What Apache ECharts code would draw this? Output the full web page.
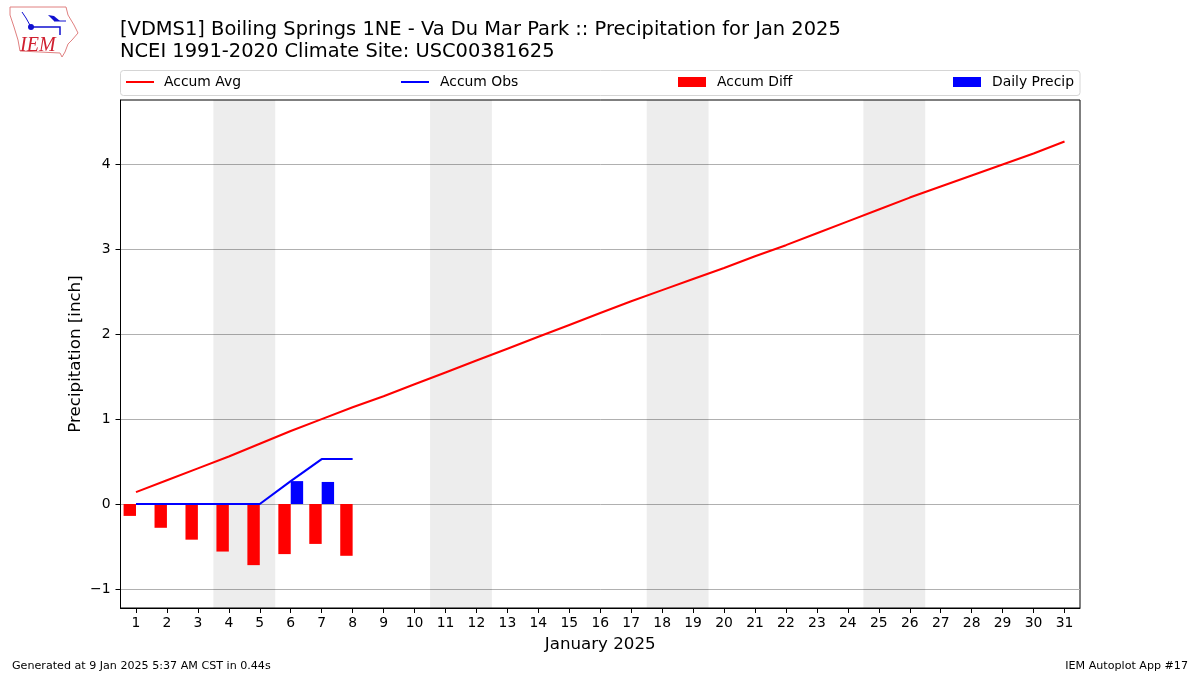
<!DOCTYPE html>
<html><head><meta charset="utf-8">
<style>html,body{margin:0;padding:0;background:#fff}#c{width:1200px;height:675px}</style>
<script src="https://cdn.jsdelivr.net/npm/echarts@6/dist/echarts.min.js"></script>
</head><body><div id="c"></div>
<script>
const FONT = '"DejaVu Sans", sans-serif';
const days = ['1','2','3','4','5','6','7','8','9','10','11','12','13','14','15','16','17','18','19','20','21','22','23','24','25','26','27','28','29','30','31'];
const accumAvg = [0.14,0.28,0.42,0.56,0.71,0.86,1.00,1.14,1.27,1.41,1.55,1.69,1.83,1.97,2.11,2.25,2.39,2.52,2.65,2.78,2.92,3.05,3.19,3.33,3.47,3.61,3.74,3.87,4.00,4.13,4.27];
const accumObs = [0,0,0,0,0,0.27,0.53,0.53];
const accumDiff = [-0.14,-0.28,-0.42,-0.56,-0.72,-0.59,-0.47,-0.61];
const dailyPrecip = [0,0,0,0,0,0.27,0.26,0];
const weekendBands = [[3.5,5.5],[10.5,12.5],[17.5,19.5],[24.5,26.5]];
const yTicks = [-1,0,1,2,3,4];

const legendItem = (name,left,h,gap) => ({
  data:[name],left:left,top:75,padding:0,itemWidth:28,itemHeight:h,itemGap:0,icon:'rect',
  selectedMode:false,textStyle:{fontFamily:FONT,fontSize:13.9,color:'#000',padding:[0,0,0,gap]}
});
const chart = echarts.init(document.getElementById('c'), null, {renderer:'canvas'});
chart.setOption({
  animation:false,
  backgroundColor:'#fff',
  textStyle:{fontFamily:FONT},
  title:[
    {text:'[VDMS1] Boiling Springs 1NE - Va Du Mar Park :: Precipitation for Jan 2025\nNCEI 1991-2020 Climate Site: USC00381625',left:120,top:19,padding:0,
     textStyle:{fontFamily:FONT,fontSize:19.44,fontWeight:'normal',color:'#000',lineHeight:22}},
    {text:'Generated at 9 Jan 2025 5:37 AM CST in 0.44s',left:12,top:661,padding:0,textStyle:{fontFamily:FONT,fontSize:11.11,fontWeight:'normal',color:'#000'}},
    {text:'IEM Autoplot App #17',right:12,top:661,padding:0,textStyle:{fontFamily:FONT,fontSize:11.11,fontWeight:'normal',color:'#000'}}
  ],
  legend:[legendItem('Accum Avg',126,2,5),legendItem('Accum Obs',401,2,6),legendItem('Accum Diff',678,10,6),legendItem('Daily Precip',953,10,6)],
  grid:{left:120.5,top:100,width:959.5,height:508,show:true,borderColor:'#000',borderWidth:1,backgroundColor:'transparent'},
  xAxis:[
    {type:'category',data:days,boundaryGap:true,
     name:'January 2025',nameLocation:'middle',nameGap:28,nameMoveOverlap:false,nameTextStyle:{fontFamily:FONT,fontSize:16.67,color:'#000'},
     axisLine:{show:true,onZero:false,lineStyle:{color:'#000',width:1}},
     axisTick:{show:true,inside:false,alignWithLabel:true,interval:0,length:5,lineStyle:{color:'#000',width:1}},
     axisLabel:{interval:0,color:'#000',fontFamily:FONT,fontSize:13.9,margin:8},
     splitLine:{show:false}},
    {type:'value',min:0.5,max:31.5,show:false,splitLine:{show:false}}
  ],
  yAxis:{type:'value',min:-1.225,max:4.76,interval:1,
     name:'Precipitation [inch]',nameLocation:'middle',nameRotate:90,nameGap:36,nameMoveOverlap:false,nameTextStyle:{fontFamily:FONT,fontSize:16.67,color:'#000'},
     axisLine:{show:true,lineStyle:{color:'#000',width:1}},
     axisTick:{show:true,inside:false,length:5,customValues:yTicks,lineStyle:{color:'#000',width:1}},
     axisLabel:{color:'#000',fontFamily:FONT,fontSize:13.9,margin:10,padding:[4,0,0,0],customValues:yTicks,formatter:v=>String(v).replace('-','\u2212')},
     splitLine:{show:true,showMinLine:true,showMaxLine:true,lineStyle:{color:'#b0b0b0',width:1,type:'solid'}}},
  series:[
    {type:'custom',name:'Weekend',xAxisIndex:1,silent:true,z:1,clip:true,
     data:weekendBands,
     encode:{x:[0,1]},
     renderItem:(params,api)=>{
       const a=api.coord([api.value(0),0]), b=api.coord([api.value(1),0]);
       const cs=params.coordSys;
       return {type:'rect',shape:{x:a[0],y:cs.y,width:b[0]-a[0],height:cs.height},style:{fill:'rgba(0,0,0,0.07)'}};
     }},
    {type:'bar',name:'Accum Diff',data:accumDiff,barWidth:12.4,barGap:0,itemStyle:{color:'#ff0000'},z:3},
    {type:'bar',name:'Daily Precip',data:dailyPrecip,barWidth:12.4,barGap:0,itemStyle:{color:'#0000ff'},z:3},
    {type:'line',name:'Accum Avg',data:accumAvg,showSymbol:false,symbol:'none',lineStyle:{color:'#ff0000',width:2.1},itemStyle:{color:'#ff0000'},z:4},
    {type:'line',name:'Accum Obs',data:accumObs,showSymbol:false,symbol:'none',lineStyle:{color:'#0000ff',width:2.1},itemStyle:{color:'#0000ff'},z:4}
  ],
  graphic:[
    {type:'rect',z:-1,shape:{x:120.5,y:70.5,width:959.5,height:25,r:3},style:{fill:'#fff',stroke:'#d5d5d5',lineWidth:1}},
    {type:'polygon',shape:{points:[[10,7],[66,7],[68,15],[74,25],[78,33],[72,40],[68,44],[65,52],[62,57],[60,53],[20,51],[18,40],[14,27],[10,15]]},style:{fill:'#fff',stroke:'#e08080',lineWidth:1}},
    {type:'polyline',shape:{points:[[31,27],[60,27],[60,35]]},style:{stroke:'#1010d0',lineWidth:1.5,fill:null}},
    {type:'polygon',shape:{points:[[48,15],[54,16],[60,21],[54,21]]},style:{fill:'#1010d0'}},
    {type:'polyline',shape:{points:[[54,21],[66,21]]},style:{stroke:'#1010d0',lineWidth:1,fill:null}},
    {type:'polyline',shape:{points:[[22,12],[26,18],[31,27]]},style:{stroke:'#1010d0',lineWidth:1,fill:null}},
    {type:'circle',shape:{cx:31,cy:27,r:3},style:{fill:'#1010d0'}},
    {type:'text',style:{x:20,y:36,text:'IEM',fill:'#d02030',font:'italic 20px "Liberation Serif", serif'}}
  ]
});
</script></body></html>
